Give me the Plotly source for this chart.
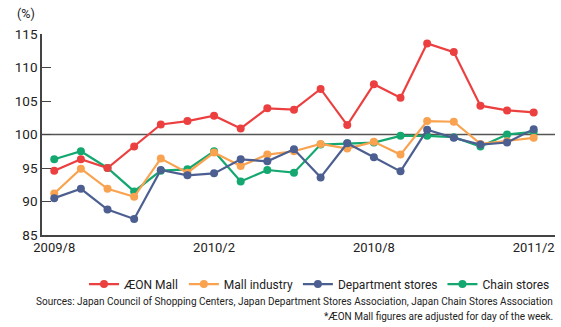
import plotly.graph_objects as go

months = ["2009/8","2009/9","2009/10","2009/11","2009/12","2010/1","2010/2","2010/3","2010/4",
          "2010/5","2010/6","2010/7","2010/8","2010/9","2010/10","2010/11","2010/12","2011/1","2011/2"]
tick_labels = ["2009/8", "2010/2", "2010/8", "2011/2"]

aeon_mall = [94.6, 96.3, 95.0, 98.2, 101.5, 102.0, 102.8, 100.9, 103.9, 103.7, 106.8, 101.4,
             107.5, 105.5, 113.6, 112.3, 104.3, 103.6, 103.3]
mall_industry = [91.2, 94.9, 91.9, 90.7, 96.4, 94.3, 97.3, 95.3, 97.0, 97.5, 98.6, 97.9,
                 98.9, 97.0, 102.0, 101.9, 98.6, 99.0, 99.5]
department_stores = [90.5, 91.9, 88.8, 87.4, 94.7, 93.9, 94.2, 96.3, 96.0, 97.8, 93.6, 98.7,
                     96.6, 94.5, 100.7, 99.5, 98.5, 98.8, 100.8]
chain_stores = [96.3, 97.5, 95.0, 91.5, 94.6, 94.8, 97.5, 93.0, 94.7, 94.3, 98.5, 98.7,
                98.8, 99.8, 99.8, 99.6, 98.2, 100.0, 100.4]

FONT = "Roboto"
series = [
    ("Chain stores", chain_stores, "#14a870", 4),
    ("Mall industry", mall_industry, "#f9a24f", 2),
    ("Department stores", department_stores, "#4c5f90", 3),
    ("ÆON Mall", aeon_mall, "#ec4040", 1),
]

fig = go.Figure()
for name, vals, color, rank in series:
    fig.add_trace(go.Scatter(
        x=months, y=vals, name=name, mode="lines+markers",
        line=dict(color=color, width=2.2),
        marker=dict(color=color, size=8),
        legendrank=rank,
    ))

fig.add_shape(type="line", xref="paper", x0=0, x1=1, yref="y", y0=100, y1=100,
              line=dict(color="#555555", width=1.3), layer="below")

fig.update_layout(
    width=561, height=327,
    margin=dict(l=42, r=6, t=34, b=92),
    plot_bgcolor="white", paper_bgcolor="white",
    font=dict(family=FONT, size=12, color="#222222"),
    showlegend=True,
    legend=dict(orientation="h", x=1.0, xanchor="right", y=-0.244, yanchor="middle",
                font=dict(size=12, color="#222222"), itemwidth=30,
                traceorder="normal", bgcolor="rgba(0,0,0,0)"),
    xaxis=dict(type="category", range=[-0.46, 18.8], tickvals=tick_labels, ticktext=tick_labels,
               showgrid=False, showline=True, linecolor="#444444", linewidth=1.5,
               ticks="", tickfont=dict(size=13), zeroline=False),
    yaxis=dict(range=[85, 115], tickvals=[85, 90, 95, 100, 105, 110, 115],
               showgrid=False, showline=True, linecolor="#444444", linewidth=1.5,
               ticks="inside", ticklen=9, tickcolor="#444444", tickwidth=1.3,
               tickfont=dict(size=13.5), zeroline=False),
    annotations=[
        dict(text="(%)", xref="paper", yref="paper", x=-0.031, y=1.1, xanchor="center",
             yanchor="middle", showarrow=False, font=dict(size=12.5)),
        dict(text="Sources: Japan Council of Shopping Centers, Japan Department Stores Association, Japan Chain Stores Association",
             xref="paper", yref="paper", x=1.0, y=-0.333, xanchor="right", yanchor="middle",
             showarrow=False, font=dict(size=10)),
        dict(text="*ÆON Mall figures are adjusted for day of the week.",
             xref="paper", yref="paper", x=1.0, y=-0.405, xanchor="right", yanchor="middle",
             showarrow=False, font=dict(size=10)),
    ],
)

fig.write_html("out.html")
